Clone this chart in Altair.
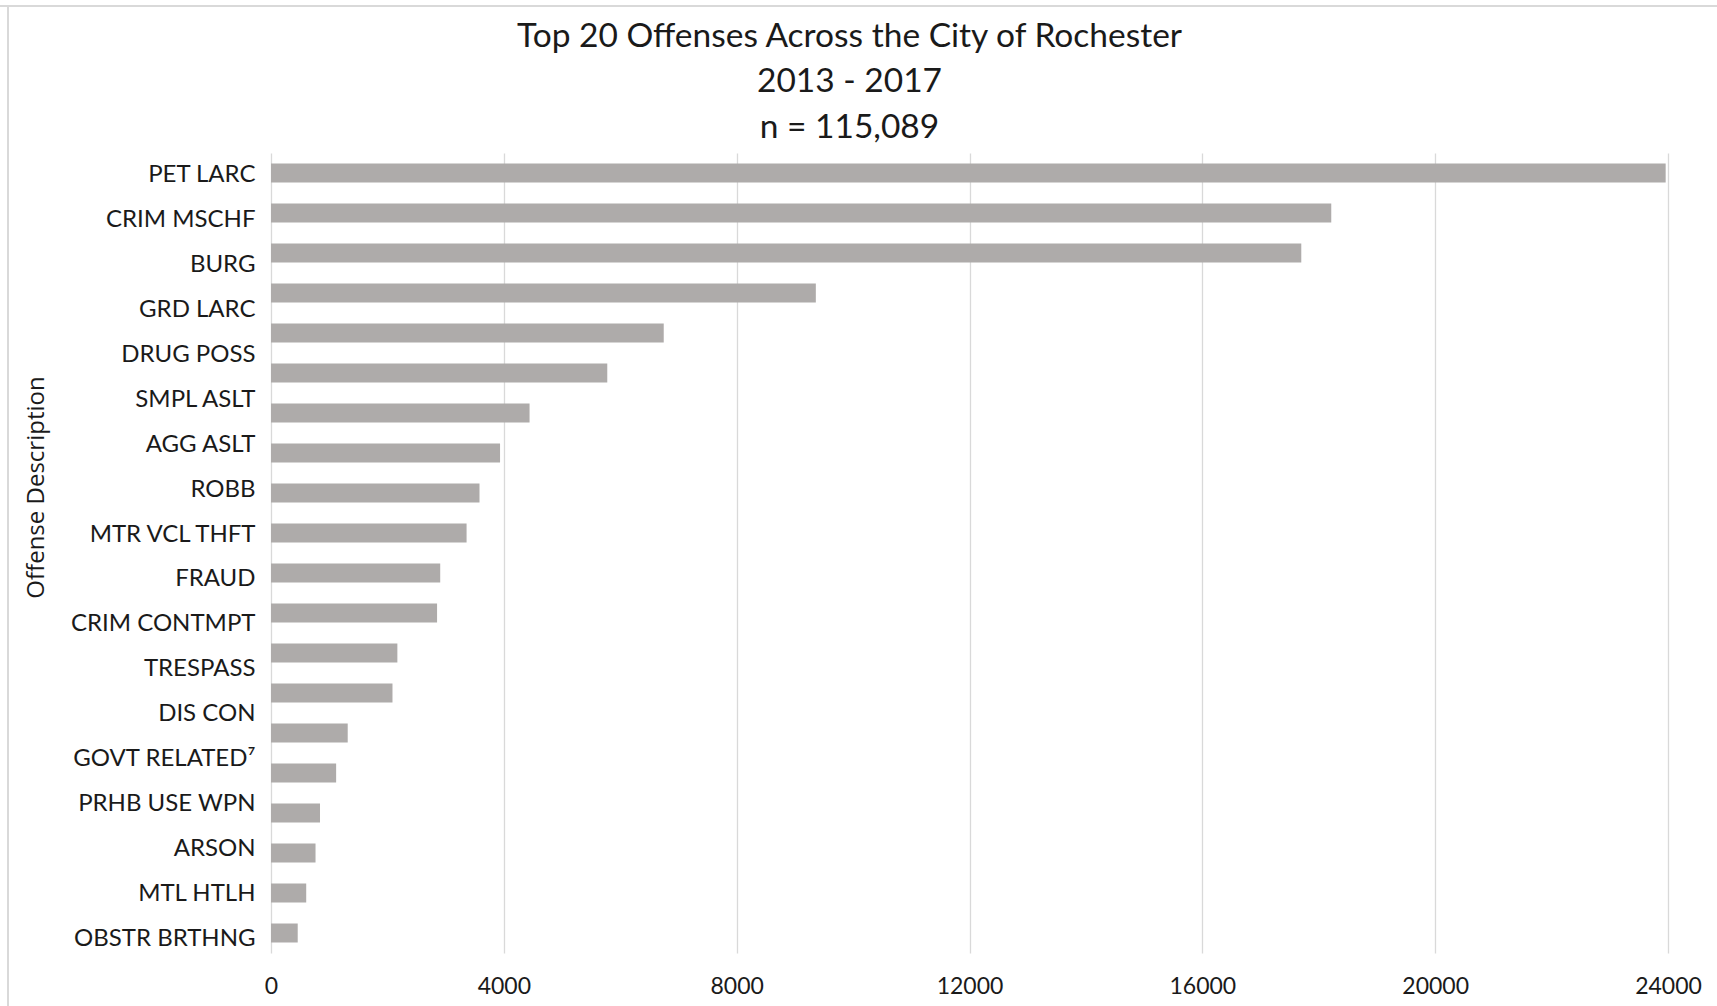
import altair as alt
import pandas as pd

# Tick labels shown on the offense axis (18 labels as printed in the reference)
offense_labels = [
    "PET LARC", "CRIM MSCHF", "BURG", "GRD LARC", "DRUG POSS", "SMPL ASLT",
    "AGG ASLT", "ROBB", "MTR VCL THFT", "FRAUD", "CRIM CONTMPT", "TRESPASS",
    "DIS CON", "GOVT RELATED\u2077", "PRHB USE WPN", "ARSON", "MTL HTLH",
    "OBSTR BRTHNG",
]

# The 20 bars (ranked top to bottom) and their counts
bar_rank = [str(i) for i in range(1, 21)]
bar_values = [
    23960, 18215, 17700, 9360, 6747, 5777, 4442, 3935, 3582, 3360,
    2907, 2853, 2171, 2087, 1318, 1119, 842, 765, 605, 459,
]

x_ticks = [0, 4000, 8000, 12000, 16000, 20000, 24000]

title_lines = ["Top 20 Offenses Across the City of Rochester", "2013 - 2017", "n = 115,089"]

bars_df = pd.DataFrame({"rank": bar_rank, "count": bar_values})
labels_df = pd.DataFrame({"offense": offense_labels})

TEXT = "#1a1a1a"
FRAME = "#D9D9D9"

bars = alt.Chart(bars_df).mark_bar(color="#AEABAA").encode(
    x=alt.X(
        "count:Q",
        scale=alt.Scale(domain=[0, 24000], nice=False, zero=True),
        axis=alt.Axis(
            values=x_ticks, format="d", title=None, grid=True,
            gridColor="#D9D9D9", gridWidth=1.3, domain=False, ticks=False,
            labelFont="Lato", labelFontSize=23, labelColor=TEXT,
            labelPadding=22, labelFlush=False,
        ),
    ),
    y=alt.Y(
        "rank:N", sort=bar_rank, axis=None,
        scale=alt.Scale(paddingInner=0.525, paddingOuter=0.2625),
    ),
)

labels = alt.Chart(labels_df).mark_point(opacity=0).encode(
    y=alt.Y(
        "offense:N", sort=offense_labels,
        scale=alt.Scale(type="point", padding=0.4),
        axis=alt.Axis(
            orient="left", title="Offense Description", domain=False,
            ticks=False, grid=False, labelFont="Lato", labelFontSize=24,
            labelColor=TEXT, labelPadding=16, labelLimit=400, labelOffset=3.5,
            titleFont="Open Sans", titleFontSize=24, titleFontWeight="normal",
            titleColor=TEXT, titleX=-228, titleY=334,
            titleBaseline="alphabetic", titleAngle=270,
        ),
    ),
)

# Chart-area frame (top and left edges visible in the reference)
frame_df = pd.DataFrame({"edge": ["frame"]})
frame_top = alt.Chart(frame_df).mark_rule(color=FRAME, strokeWidth=2).encode(
    x=alt.value(-271), x2=alt.value(1446), y=alt.value(-147)
)
frame_left = alt.Chart(frame_df).mark_rule(color=FRAME, strokeWidth=2).encode(
    x=alt.value(-263), y=alt.value(-147), y2=alt.value(853)
)

chart = (
    alt.layer(frame_top, frame_left, bars, labels)
    .resolve_scale(y="independent")
    .properties(
        width=1397,
        height=800,
        padding={"left": 271, "top": 153, "right": 49, "bottom": 53},
        autosize=alt.AutoSizeParams(type="none"),
        background="white",
        title=alt.TitleParams(
            text=title_lines, font="Lato", fontSize=33.5, fontWeight="normal",
            color=TEXT, anchor="middle", frame="group", dx=-120, dy=154,
            lineHeight=45.5, offset=14,
        ),
    )
    .configure_view(stroke=None)
)

chart.save("out.html", embed_options={"renderer": "svg", "actions": False})
